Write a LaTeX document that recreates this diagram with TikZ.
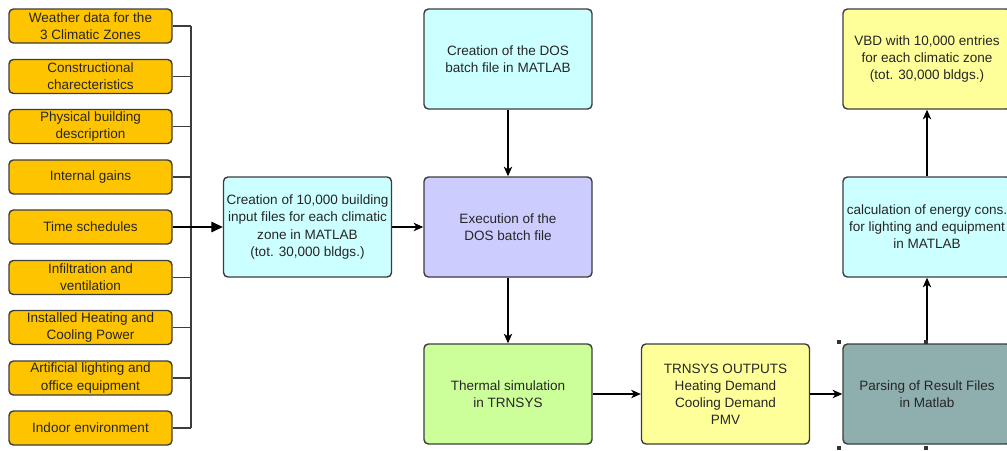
\documentclass[tikz,border=0pt]{standalone}
\usepackage{fontspec}
\setmainfont{Liberation Sans}
\usetikzlibrary{arrows.meta}

\definecolor{inputorange}{RGB}{255,196,0}
\definecolor{stagecyan}{RGB}{204,255,255}
\definecolor{stagelilac}{RGB}{204,204,255}
\definecolor{stagegreen}{RGB}{204,255,153}
\definecolor{stageyellow}{RGB}{255,255,153}
\definecolor{stageslate}{RGB}{143,174,174}
\definecolor{boxgray}{RGB}{60,60,60}

\tikzset{
	inputbox/.style={draw=boxgray, line width=0.8pt, rounded corners=2.5pt, fill=inputorange, text=black!85, minimum width=3.26cm, minimum height=0.68cm, align=center, inner sep=1pt},
	stagebox/.style={draw=boxgray, line width=0.8pt, rounded corners=2.5pt, text=black!85, minimum width=3.36cm, minimum height=2.00cm, align=center, inner sep=1pt},
	feed/.style={draw=boxgray, line width=0.6pt},
	flow/.style={draw=black, line width=0.6pt, -{Stealth[length=5.5pt, width=4.8pt, inset=1.6pt]}},
	handle/.style={fill=black!80, minimum size=0.08cm, inner sep=0pt},
}

\begin{document}
\begin{tikzpicture}[font=\fontsize{7.7}{9.7}\selectfont]
        \useasboundingbox (0,0) rectangle (20.14,-9.00);
        \clip (0,0) rectangle (20.14,-9.00);

	\node[inputbox] (weather) at (1.81,-0.52) {Weather data for the\\3 Climatic Zones};
	\node[inputbox] (construct) at (1.81,-1.53) {Constructional\\charecteristics};
	\node[inputbox] (physical) at (1.81,-2.53) {Physical building\\descriprtion};
	\node[inputbox] (gains) at (1.81,-3.54) {Internal gains};
	\node[inputbox] (schedules) at (1.81,-4.54) {Time schedules};
	\node[inputbox] (infiltration) at (1.81,-5.55) {Infiltration and\\ventilation};
	\node[inputbox] (power) at (1.81,-6.55) {Installed Heating and\\Cooling Power};
	\node[inputbox] (lighting) at (1.81,-7.56) {Artificial lighting and\\office equipment};
	\node[inputbox] (indoor) at (1.81,-8.56) {Indoor environment};

	\coordinate (bus) at (3.82,0.00);

	\draw[feed] (weather.east) -- (weather.east -| bus);
	\draw[feed] (construct.east) -- (construct.east -| bus);
	\draw[feed] (physical.east) -- (physical.east -| bus);
	\draw[feed] (gains.east) -- (gains.east -| bus);
	\draw[feed] (infiltration.east) -- (infiltration.east -| bus);
	\draw[feed] (power.east) -- (power.east -| bus);
	\draw[feed] (lighting.east) -- (lighting.east -| bus);
	\draw[feed] (indoor.east) -- (indoor.east -| bus);
	\draw[feed] (weather.east -| bus) -- (indoor.east -| bus);

	\node[stagebox, fill=stagecyan] (inputs) at (6.15,-4.54) {Creation of 10,000 building\\input files for each climatic\\zone in MATLAB\\(tot. 30,000 bldgs.)};
	\node[stagebox, fill=stagecyan] (dosfile) at (10.16,-1.18) {Creation of the DOS\\batch file in MATLAB};
	\node[stagebox, fill=stagelilac] (execution) at (10.16,-4.54) {Execution of the\\DOS batch file};
	\node[stagebox, fill=stagegreen] (thermal) at (10.16,-7.88) {Thermal simulation\\in TRNSYS};
	\node[stagebox, fill=stageyellow] (outputs) at (14.51,-7.88) {TRNSYS OUTPUTS\\Heating Demand\\Cooling Demand\\PMV};
	\node[stagebox, fill=stageslate] (parsing) at (18.54,-7.88) {Parsing of Result Files\\in Matlab};
	\node[stagebox, fill=stagecyan] (energy) at (18.54,-4.54) {calculation of energy cons.\\for lighting and equipment\\in MATLAB};
	\node[stagebox, fill=stageyellow] (vbd) at (18.54,-1.18) {VBD with 10,000 entries\\for each climatic zone\\(tot. 30,000 bldgs.)};

	\draw[feed, draw=black, -{Triangle[length=6.5pt, width=6pt]}] (schedules.east) -- (inputs.west);

	\draw[flow] (inputs.east) -- (execution.west);
	\draw[flow] (dosfile.south) -- (execution.north);
	\draw[flow] (execution.south) -- (thermal.north);
	\draw[flow] (thermal.east) -- (outputs.west);
	\draw[flow] (outputs.east) -- (parsing.west);
	\draw[flow] (parsing.north) -- (energy.south);
	\draw[flow] (energy.north) -- (vbd.south);

	\node[handle] (handleNW) at (16.77,-6.83) {};
	\node[handle] (handleN) at (18.52,-6.83) {};
	\node[handle] (handleSW) at (16.77,-8.96) {};
	\node[handle] (handleS) at (18.52,-8.96) {};

\end{tikzpicture}
\end{document}
